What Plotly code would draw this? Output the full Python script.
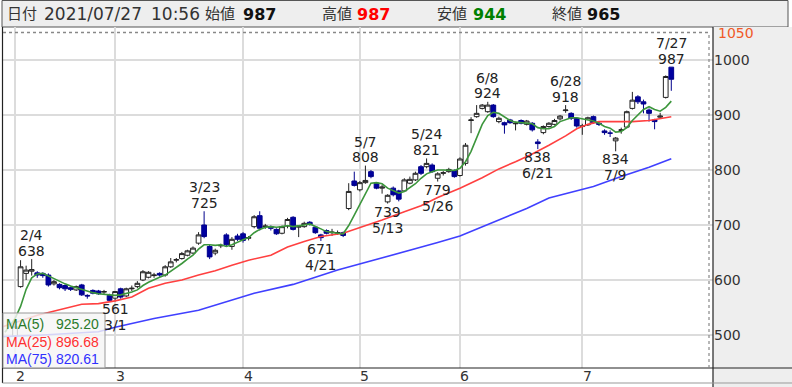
import plotly.graph_objects as go

# ---------------- data ----------------
dates = ["2/1","2/2","2/3","2/4","2/5","2/8","2/9","2/10","2/12","2/15","2/16","2/17","2/18","2/19","2/22","2/24","2/25","2/26",
         "3/1","3/2","3/3","3/4","3/5","3/8","3/9","3/10","3/11","3/12","3/15","3/16","3/17","3/18","3/19","3/22","3/23","3/24","3/25","3/26","3/29","3/30","3/31",
         "4/1","4/2","4/5","4/6","4/7","4/8","4/9","4/12","4/13","4/14","4/15","4/16","4/19","4/20","4/21","4/22","4/23","4/26","4/27","4/28","4/30",
         "5/6","5/7","5/10","5/11","5/12","5/13","5/14","5/17","5/18","5/19","5/20","5/21","5/24","5/25","5/26","5/27","5/28","5/31",
         "6/1","6/2","6/3","6/4","6/7","6/8","6/9","6/10","6/11","6/14","6/15","6/16","6/17","6/18","6/21","6/22","6/23","6/24","6/25","6/28","6/29","6/30",
         "7/1","7/2","7/5","7/6","7/7","7/8","7/9","7/12","7/13","7/14","7/15","7/16","7/19","7/20","7/21","7/26","7/27"]
opens = [498,588,612,616,613,612,609,593,592,590,586,582,591,572,581,580,578,572,
         567,584,571,584,588,600,605,608,612,609,624,636,639,645,649,667,700,661,649,662,682,661,680,
         684,676,697,717,697,697,692,685,698,714,696,697,705,696,682,690,686,685,686,730,780,
         764,777,797,776,767,742,767,762,762,776,782,806,806,809,785,794,797,799,
         790,812,890,897,912,906,918,888,886,891,884,890,883,885,851,868,879,883,893,908,903,894,
         879,882,897,885,871,867,853,872,878,912,933,924,909,891,896,932,987]
highs = [520,636,626,638,616,614,612,600,594,592,588,590,593,574,583,582,582,575,
         580,586,586,590,598,618,616,613,614,627,640,640,651,655,661,687,725,664,657,666,685,678,684,
         687,680,718,725,702,699,694,699,713,716,700,706,707,698,684,692,693,690,688,776,797,
         780,808,800,778,773,756,770,764,785,788,797,809,821,812,796,798,804,801,
         823,849,896,918,920,924,920,897,888,893,888,892,891,887,856,881,887,893,900,918,905,896,
         884,897,899,888,874,872,860,877,908,942,936,928,912,893,904,972,987]
lows = [495,586,600,608,604,604,588,590,583,580,580,580,571,566,574,573,574,562,
        561,566,569,580,585,598,603,604,606,606,622,632,637,643,647,664,676,638,645,658,660,655,671,
        668,672,694,690,693,690,682,683,694,690,678,695,699,684,671,683,680,682,678,727,770,
        761,775,785,765,757,739,752,743,760,774,780,791,803,795,779,790,795,786,
        788,808,867,895,910,904,895,885,866,884,872,883,881,870,838,865,877,881,890,904,891,877,
        864,880,884,880,864,860,834,866,876,910,920,903,888,874,893,930,944]
closes = [515,624,618,619,609,608,591,597,586,584,583,588,573,571,576,575,579,563,
          579,569,584,585,594,615,614,609,609,624,633,637,648,653,658,682,679,642,654,663,664,674,674,
          672,677,715,694,698,694,684,697,710,692,698,703,701,686,677,685,687,686,681,761,772,
          777,781,788,767,769,754,755,747,782,783,794,794,812,797,793,795,801,788,
          820,845,891,903,918,918,897,894,882,886,885,885,889,873,848,879,885,890,898,909,894,880,
          880,895,886,883,868,867,858,873,906,927,924,920,903,888,898,970,965]

month_labels = ["2", "3", "4", "5", "6", "7"]
month_first = ["2/1", "3/1", "4/1", "5/6", "6/1", "7/1"]

# moving averages (index position, value)
ma5_x = [-1.8,0,1,2,3,4,5,6,7,8,9,10,11,12,13,14,15,16,17,18,19,20,21,22,23,24,25,26,27,28,29,30,31,32,33,34,35,36,37,38,39,40,
         41,42,43,44,45,46,47,48,49,50,51,52,53,54,55,56,57,58,59,60,61,62,63,64,65,66,67,68,69,70,71,72,73,74,75,76,77,78,79,
         80,81,82,83,84,85,86,87,88,89,90,91,92,93,94,95,96,97,98,99,100,101,102,103,104,105,106,107,108,109,110,111,112,113,114,115,116,117,118]
ma5_y = [505,530,552,583,604,611,612,607,603,597,593,589,586,582,579,577,575,574,572,572,573,575,578,582,590,596,601,605,609,616,622,630,638,645,656,664,664,663,664,661,664,669,
         673,677,686,692,696,697,696,697,699,697,698,700,702,698,693,688,686,685,684,699,718,737,756,776,777,775,767,762,758,761,768,775,785,793,797,800,800,800,799,
         803,815,834,859,883,899,905,903,897,890,887,886,886,884,877,875,875,879,888,892,895,895,893,892,889,885,879,876,869,870,877,890,900,910,915,910,907,914,925.2]
ma25_x = [-2.2,4,6,9,12,15,18,21,24,27,30,33,36,39,42,46,49,52,55,59,62,66,70,73,76,80,84,87,90,93,96,99,101,103,105,108,111,114,116,118]
ma25_y = [515,536,541,549,556,557,562,569,585,594,600,609,617,627,636,645,660,670,679,685,695,709,724,735,750,767,786,802,815,829,845,862,875,883,888,888,888,890,893,896.68]
ma75_x = [-2.2,5,15,18,25,33,43,50,58,66,72,76,80,87,92,96,100,104,109,114,118]
ma75_y = [497,500,506,514,530,545,576,592,618,640,657,668,680,709,730,749,760,770,788,805,820.61]

ma_names = ["MA(5)", "MA(25)", "MA(75)"]
ma_last = ["925.20", "896.68", "820.61"]

high_marks = [("2/4", 638), ("3/23", 725), ("5/7", 808), ("5/24", 821), ("6/8", 924), ("6/28", 918), ("7/27", 987)]
low_marks = [("3/1", 561), ("4/21", 671), ("5/13", 739), ("5/26", 779), ("6/21", 838), ("7/9", 834)]

y_ticks = [500, 600, 700, 800, 900, 1000]
y_top_label = 1050

# (text, colour, bold, size)
header_items = [("日付", "#333", False, 15), ("2021/07/27", "#333", False, 17), ("10:56", "#333", False, 17),
                ("始値", "#333", False, 15), ("987", "#111", True, 16), ("高値", "#333", False, 15), ("987", "#ff0000", True, 16),
                ("安値", "#333", False, 15), ("944", "#008000", True, 16), ("終値", "#333", False, 15), ("965", "#111", True, 16)]

# ---------------- layout geometry ----------------
W, H = 792, 387
L, R, T, B = 3, 79, 27, 19
PW, PH = W - L - R, H - T - B

def pxx(x):
    return (x - L) / PW

def pxy(y):
    return (H - B - y) / PH

xi = list(range(len(dates)))
FONT = "DejaVu Sans, Verdana, Noto Sans CJK JP, sans-serif"
LEGFONT = "Liberation Sans, Arial, sans-serif"
GREEN, RED, BLUE = "#3c963c", "#ff4040", "#4040ff"

fig = go.Figure()
fig.add_trace(go.Scatter(x=ma75_x, y=ma75_y, mode="lines", line=dict(color=BLUE, width=1.6), hoverinfo="skip"))
fig.add_trace(go.Scatter(x=ma25_x, y=ma25_y, mode="lines", line=dict(color=RED, width=1.6), hoverinfo="skip"))
fig.add_trace(go.Scatter(x=ma5_x, y=ma5_y, mode="lines", line=dict(color=GREEN, width=1.6), hoverinfo="skip"))
fig.add_trace(go.Candlestick(
    x=xi, open=opens, high=highs, low=lows, close=closes,
    increasing=dict(line=dict(color="#222222", width=1), fillcolor="#ffffff"),
    decreasing=dict(line=dict(color="#00008c", width=1), fillcolor="#0000a0"),
    whiskerwidth=0,
))

shapes = []
# header bar
shapes.append(dict(type="rect", xref="paper", yref="paper", x0=pxx(2), x1=pxx(788), y0=pxy(27), y1=pxy(0.5),
                   fillcolor="#eeeeee", line=dict(color="#555", width=1), layer="below"))
# right axis panel
shapes.append(dict(type="rect", xref="paper", yref="paper", x0=pxx(713), x1=pxx(792), y0=pxy(387), y1=pxy(27),
                   fillcolor="#eeeeee", line=dict(width=0), layer="below"))
# borders
shapes.append(dict(type="line", xref="paper", yref="paper", x0=pxx(713), x1=pxx(713), y0=pxy(387), y1=pxy(27),
                   line=dict(color="#222", width=1.2)))
shapes.append(dict(type="line", xref="paper", yref="paper", x0=pxx(2.5), x1=pxx(2.5), y0=pxy(383), y1=pxy(27),
                   line=dict(color="#222", width=1.2)))
shapes.append(dict(type="line", xref="paper", yref="paper", x0=pxx(2.5), x1=pxx(792), y0=pxy(368), y1=pxy(368),
                   line=dict(color="#222", width=1.2)))
shapes.append(dict(type="line", xref="paper", yref="paper", x0=pxx(2.5), x1=pxx(792), y0=pxy(383), y1=pxy(383),
                   line=dict(color="#999", width=1)))
# dotted limit lines
shapes.append(dict(type="line", xref="paper", yref="y", x0=0, x1=pxx(709), y0=y_top_label, y1=y_top_label,
                   line=dict(color="#888", width=1.5, dash="dot")))
shapes.append(dict(type="line", xref="paper", yref="paper", x0=pxx(709), x1=pxx(709), y0=0, y1=pxy(33),
                   line=dict(color="#888", width=1.2, dash="dot")))
# MA legend box
shapes.append(dict(type="rect", xref="paper", yref="paper", x0=pxx(3), x1=pxx(105), y0=pxy(368), y1=pxy(313),
                   fillcolor="rgba(245,245,245,0.82)", line=dict(color="#999", width=1), layer="above"))

ann = []
# header texts
hx = [5, 42, 149, 203, 241, 320, 355, 435, 471, 550, 585]
for (txt, col, bold, sz), x in zip(header_items, hx):
    ann.append(dict(text=("<b>%s</b>" % txt) if bold else txt, xref="paper", yref="paper", x=pxx(x), y=pxy(14),
                    xanchor="left", yanchor="middle", showarrow=False,
                    font=dict(family=FONT, size=sz, color=col)))
# top price label
ann.append(dict(text=str(y_top_label), xref="paper", yref="y", x=pxx(716), y=y_top_label, xanchor="left",
                yanchor="middle", showarrow=False, font=dict(family=FONT, size=14, color="#f05a28")))
# month labels
for lab, d in zip(month_labels, month_first):
    ann.append(dict(text=lab, xref="x", yref="paper", x=dates.index(d), y=pxy(375.5), xanchor="center",
                    yanchor="middle", xshift=5, showarrow=False, font=dict(family=FONT, size=14, color="#333")))
# high / low marks
for d, v in high_marks:
    i = dates.index(d)
    ann.append(dict(text=str(v), x=i, y=v, yshift=8.5, showarrow=False, yanchor="middle",
                    font=dict(family=FONT, size=14, color="#222")))
    ann.append(dict(text=d, x=i, y=v, yshift=24, showarrow=False, yanchor="middle",
                    font=dict(family=FONT, size=14, color="#222")))
for d, v in low_marks:
    i = dates.index(d)
    ann.append(dict(text=str(v), x=i, y=v, yshift=-8, showarrow=False, yanchor="middle",
                    font=dict(family=FONT, size=14, color="#222")))
    ann.append(dict(text=d, x=i, y=v, yshift=-24, showarrow=False, yanchor="middle",
                    font=dict(family=FONT, size=14, color="#222")))
# MA legend texts
for k, (nm, val, col) in enumerate(zip(ma_names, ma_last, ["#2a7a2a", "#ff3030", "#3030ff"])):
    yy = [323.5, 341.5, 358.5][k]
    ann.append(dict(text=nm, xref="paper", yref="paper", x=pxx(4), y=pxy(yy), xanchor="left", yanchor="middle",
                    showarrow=False, font=dict(family=LEGFONT, size=14, color=col)))
    ann.append(dict(text=val, xref="paper", yref="paper", x=pxx(101), y=pxy(yy), xanchor="right", yanchor="middle",
                    showarrow=False, font=dict(family=LEGFONT, size=14, color=col)))

fig.update_layout(
    width=W, height=H, autosize=False,
    margin=dict(l=L, r=R, t=T, b=B, pad=0),
    paper_bgcolor="#ffffff", plot_bgcolor="#ffffff",
    showlegend=False, boxgap=0.15, boxgroupgap=0,
    shapes=shapes, annotations=ann,
    xaxis=dict(range=[-2.16, 125.5], tickvals=[dates.index(d) for d in month_first], showticklabels=False,
               showgrid=True, gridcolor="#dcdcdc", gridwidth=1.5, zeroline=False, showline=False, ticks="",
               rangeslider=dict(visible=False), fixedrange=True),
    yaxis=dict(range=[440, 1060], side="right", tickvals=y_ticks, ticktext=[str(v) for v in y_ticks],
               showgrid=True, gridcolor="#dcdcdc", gridwidth=1.5, zeroline=False, showline=False, ticks="",
               tickfont=dict(family=FONT, size=14, color="#333"), fixedrange=True),
    font=dict(family=FONT),
)

fig.write_html("out.html")
